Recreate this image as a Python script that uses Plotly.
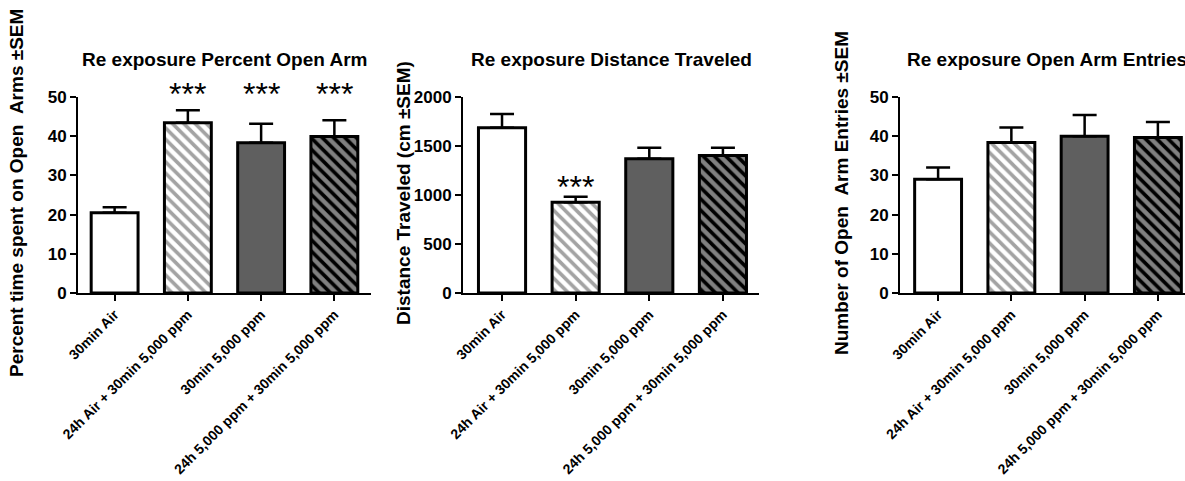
import plotly.graph_objects as go

W, H = 1185, 481

categories = ["30min Air", "24h Air + 30min 5,000 ppm", "30min 5,000 ppm",
              "24h 5,000 ppm + 30min 5,000 ppm"]

pct_open_mean = [20.5, 43.4, 38.3, 39.9]
pct_open_sem = [1.4, 3.2, 4.9, 4.2]

dist_mean = [1686, 925, 1371, 1404]
dist_sem = [141, 57, 111, 78]

entries_mean = [29.0, 38.4, 40.0, 39.7]
entries_sem = [3.0, 3.8, 5.4, 3.9]

titles = ["Re exposure Percent Open Arm", "Re exposure Distance Traveled",
          "Re exposure Open Arm Entries"]
ylabels = ["Percent time spent on Open&nbsp;&nbsp;Arms ±SEM", "Distance Traveled (cm ±SEM)",
           "Number of Open&nbsp;&nbsp;Arm Entries ±SEM"]

FONT = "Liberation Sans, Arial, sans-serif"


def X(px):
    return px / W


def Y(py):
    return 1 - py / H


bg_colors = ["white", "white", "#5f5f5f", "#808080"]
fg_colors = ["white", "#a3a3a3", "#5f5f5f", "black"]
shapes = ["", "\\", "", "\\"]

fig = go.Figure()

panels = [
    dict(mean=pct_open_mean, sem=pct_open_sem, xdom=(78, 371), xr=[-0.5, 3.5],
         yr=[0, 50], dt=10, ylab_x=17),
    dict(mean=dist_mean, sem=dist_sem, xdom=(463, 759), xr=[-0.53, 3.49],
         yr=[0, 2000], dt=500, ylab_x=404),
    dict(mean=entries_mean, sem=entries_sem, xdom=(900, 1185), xr=[-0.52, 3.37],
         yr=[0, 50], dt=10, ylab_x=842),
]

y_top_px, y_bot_px = 97, 293

for i, p in enumerate(panels):
    n = "" if i == 0 else str(i + 1)
    for j in range(len(categories)):
        mk = dict(color=bg_colors[j], line=dict(color="black", width=3))
        if shapes[j]:
            mk["pattern"] = dict(shape=shapes[j], fgcolor=fg_colors[j], bgcolor=bg_colors[j],
                                 size=8, solidity=0.45, fillmode="replace")
        fig.add_trace(go.Bar(
            x=[j], y=[p["mean"][j]],
            xaxis="x" + n, yaxis="y" + n,
            width=0.64, marker=mk,
            error_y=dict(type="data", symmetric=False, array=[p["sem"][j]],
                         arrayminus=[0], color="black", thickness=2.5, width=12),
            showlegend=False, hoverinfo="skip",
        ))
    fig.update_layout(**{
        "xaxis" + n: dict(domain=[X(p["xdom"][0]), X(p["xdom"][1])], range=p["xr"],
                          anchor="y" + n, showline=True, linecolor="black", linewidth=2,
                          ticks="outside", ticklen=6, tickwidth=2, tickcolor="black",
                          tickmode="array", tickvals=list(range(len(categories))),
                          ticktext=categories, tickangle=-45, showgrid=False,
                          zeroline=False, automargin=False,
                          tickfont=dict(family=FONT, size=14, color="black", weight="bold")),
        "yaxis" + n: dict(domain=[Y(y_bot_px), Y(y_top_px)], range=p["yr"],
                          anchor="x" + n, showline=True, linecolor="black", linewidth=2,
                          ticks="outside", ticklen=6, tickwidth=2, tickcolor="black",
                          dtick=p["dt"], showgrid=False, zeroline=False, automargin=False,
                          tickfont=dict(family=FONT, size=17, color="black", weight="bold")),
    })
    cx = (p["xdom"][0] + p["xdom"][1]) / 2 if i < 2 else 1047
    fig.add_annotation(x=X(cx), y=Y(59), xref="paper", yref="paper", text=titles[i],
                       showarrow=False, xanchor="center", yanchor="middle",
                       font=dict(family=FONT, size=19, color="black", weight="bold"))
    fig.add_annotation(x=X(p["ylab_x"]), y=Y(193), xref="paper", yref="paper",
                       text=ylabels[i], textangle=-90, showarrow=False,
                       xanchor="center", yanchor="middle",
                       font=dict(family=FONT, size=19, color="black", weight="bold"))

# significance stars
for k in [1, 2, 3]:
    fig.add_annotation(x=k, y=Y(94), xref="x", yref="paper", text="***",
                       showarrow=False, yanchor="middle",
                       font=dict(family=FONT, size=32, color="black"))
fig.add_annotation(x=1, y=Y(187), xref="x2", yref="paper", text="***", showarrow=False,
                   yanchor="middle", font=dict(family=FONT, size=32, color="black"))

fig.update_layout(width=W, height=H, margin=dict(l=0, r=0, t=0, b=0),
                  paper_bgcolor="white", plot_bgcolor="white", barmode="overlay")

fig.write_html("out.html")
